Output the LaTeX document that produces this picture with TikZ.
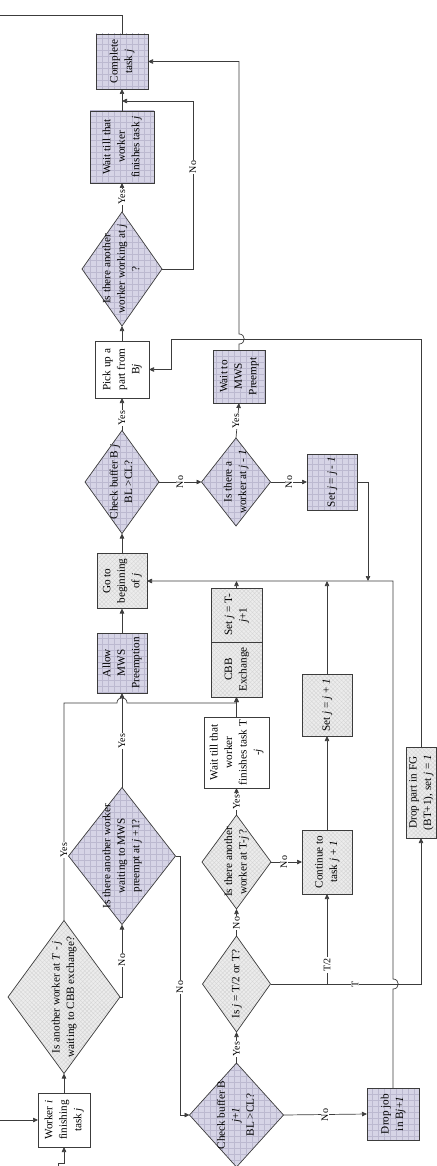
\documentclass[tikz,border=0pt]{standalone}
\usepackage{fontspec}
\setmainfont{Liberation Serif}
\usepackage{graphicx}
\usetikzlibrary{arrows.meta,shapes.geometric,patterns.meta}
\definecolor{purp}{RGB}{214,212,230}
\definecolor{purpline}{RGB}{188,185,208}
\definecolor{lgray}{RGB}{236,236,236}
\definecolor{hatch}{RGB}{210,210,210}
\definecolor{edge}{RGB}{60,60,60}
\newcommand{\rtext}[1]{\smash{\makebox[0pt]{\raisebox{-.5\height}{\rotatebox{90}{\begin{tabular}{@{}c@{}}#1\end{tabular}}}}}}
\newcommand{\vj}{\textit{j}}
\begin{document}
\begin{tikzpicture}[x=1pt,y=-1pt,
 base/.style={inner sep=0pt, outer sep=0pt, draw=edge, line width=0.7pt, font=\fontsize{11.2}{14.5}\selectfont},
 box/.style={base, rectangle},
 dia/.style={base, diamond},
 sz/.style 2 args={minimum width=#1pt, minimum height=#2pt},
 pfill/.style={preaction={fill=purp},
   preaction={pattern={Lines[distance=6pt,angle=0,line width=0.35pt]}, pattern color=purpline},
   preaction={pattern={Lines[distance=6pt,angle=90,line width=0.35pt]}, pattern color=purpline}},
 gfill/.style={preaction={fill=lgray},
   preaction={pattern={Lines[distance=3pt,angle=45,line width=0.3pt]}, pattern color=hatch},
   preaction={pattern={Lines[distance=3pt,angle=-45,line width=0.3pt]}, pattern color=hatch}},
 wfill/.style={fill=white},
 con/.style={draw=edge, line width=0.7pt},
 arr/.style={con, -{Triangle[length=5pt,width=4.5pt]}},
 lab/.style={fill=white, inner sep=1pt, rotate=90, font=\fontsize{10}{12}\selectfont}]
\useasboundingbox (0,0) rectangle (436,1166);

% boxes
\node[box,pfill,sz={52}{55}] (complete) at (122,61.5) {\rtext{Complete\\task \vj}};
\node[box,pfill,sz={64}{72}] (waitj) at (122,147) {\rtext{Wait till that\\worker\\finishes task \vj}};
\node[dia,pfill,sz={80}{114}] (anotherj) at (122,269) {\rtext{Is there another\\worker working at \vj\\?}};
\node[box,wfill,sz={54}{57}] (pick) at (122,369.5) {\rtext{Pick up a\\part from\\B\vj}};
\node[dia,pfill,sz={74}{103}] (checkbj) at (122,482) {\rtext{Check buffer B \vj\\BL >CL?}};
\node[dia,pfill,sz={69}{88}] (workerjm) at (236,482) {\rtext{Is there a\\worker at \vj{} - \textit{1}}};
\node[box,pfill,sz={52}{53}] (waitmws) at (239,376.5) {\rtext{Wait to\\MWS\\Preempt}};
\node[box,pfill,sz={50}{56}] (setjm) at (332,482) {\rtext{Set \vj{} = \vj{} - \textit{1}}};
\node[box,gfill,sz={50}{55}] (gotob) at (122,581) {\rtext{Go to\\beginning\\of \vj}};
\node[box,pfill,sz={50}{60}] (allow) at (122,663) {\rtext{Allow\\MWS\\Preemption}};
\node[box,gfill,sz={51}{54}] (setT) at (236.5,615) {\rtext{Set \vj{} = T-\\\vj+1}};
\node[box,gfill,sz={51}{55}] (cbbex) at (236.5,669.5) {\rtext{CBB\\Exchange}};
\node[box,wfill,sz={65}{71}] (waitT) at (236.5,752.5) {\rtext{Wait till that\\worker\\finishes task T\\-\vj}};
\node[box,gfill,sz={50}{62}] (setjp) at (327,705) {\rtext{Set \vj{} = \vj{} + \textit{1}}};
\node[box,gfill,sz={50}{64}] (cont) at (327,862) {\rtext{Continue to\\task \vj{} + \textit{1}}};
\node[box,gfill,sz={30}{91}] (dropfg) at (421,792.5) {\rtext{Drop part in FG\\(BT+1), set \vj{} = \textit{1}}};
\node[box,pfill,sz={52}{52}] (dropj) at (393,1114) {\rtext{Drop job\\in B\vj+\textit{1}}};
\node[box,wfill,sz={52}{54}] (worker) at (64,1120) {\rtext{Worker \textit{i}\\finishing\\task \vj}};
\node[dia,gfill,sz={112}{153}] (cbbq) at (64,997) {\rtext{Is another worker at \textit{T} - \vj\\waiting to CBB exchange?}};
\node[dia,pfill,sz={107}{137}] (mwsq) at (122,856) {\rtext{Is there another worker\\waiting to MWS\\preempt at \vj{} +1?}};
\node[dia,pfill,sz={94}{104}] (checkbj1) at (236.5,1115) {\rtext{Check buffer B\\\vj+\textit{1}\\BL >CL?}};
\node[dia,gfill,sz={69}{94}] (Tj) at (236.5,862) {\rtext{Is there another\\worker at T-\vj{} ?}};
\node[dia,gfill,sz={68}{96}] (half) at (236.5,984) {\rtext{Is \vj{} = T/2 or T?}};

% junction coordinates
\coordinate (jn) at (122,101);
\coordinate (exitL) at (0,15);
\coordinate (inL) at (0,1120);
\coordinate (inB) at (58,1166);
\coordinate (j1) at (236.5,581);
\coordinate (j2) at (327,581);
\coordinate (j3) at (368,581);
\coordinate (tb) at (327,984);

% connectors
\draw[con] (complete.north) |- (exitL);
\draw[arr] (waitj.north) -- (complete.south);
\draw[arr] (anotherj.north) -- (waitj.south);
\draw[arr] (anotherj.east) -- (193,269) -- (193,101) -- (jn);
\draw[arr] (pick.north) -- (anotherj.south);
\draw[arr] (checkbj.north) -- (pick.south);
\draw[arr] (checkbj.east) -- (workerjm.west);
\draw[arr] (workerjm.north) -- (waitmws.south);
\draw[arr] (workerjm.east) -- (setjm.west);
\draw[arr] (waitmws.north) -- (239,344) .. controls (246,344) and (246,334) .. (239,334) |- (complete.east);
\draw[arr] (setjm.east) -| (j3);
\draw[arr] (dropj.north) -- (393,989) .. controls (400,989) and (400,979) .. (393,979) -- (393,581) -- (gotob.east);
\draw[arr] (setT.north) -- (j1);
\draw[arr] (setjp.north) -- (j2);
\draw[arr] (cont.north) -- (setjp.south);
\draw[arr] (gotob.north) -- (checkbj.south);
\draw[arr] (allow.north) -- (gotob.south);
\draw[arr] (mwsq.north) -- (allow.south);
\draw[arr] (cbbq.north) |- (117,703) .. controls (117,696) and (127,696) .. (127,703) -| (cbbex.south);
\draw[arr] (waitT.north) -- (cbbex.south);
\draw[arr] (Tj.north) -- (waitT.south);
\draw[arr] (Tj.east) -- (cont.west);
\draw[arr] (half.north) -- (Tj.south);
\draw[arr] (half.east) -| (dropfg.south);
\draw[arr] (tb) -- (cont.south);
\draw[arr] (dropfg.north) |- (171,339) |- (pick.east);
\draw[arr] (mwsq.east) -- (180,856) |- (checkbj1.west);
\draw[arr] (cbbq.east) -| (mwsq.south);
\draw[arr] (worker.north) -- (cbbq.south);
\draw[arr] (inL) -- (worker.west);
\draw[arr] (inB) -- (58,1163) -| (worker.south);
\draw[arr] (checkbj1.north) -- (half.south);
\draw[arr] (checkbj1.east) -- (dropj.west);

% labels
\node[lab] (y1) at (122,197) {Yes};
\node[lab] (y2) at (122,418) {Yes};
\node[lab] (y3) at (236,421) {Yes};
\node[lab] (y4) at (122,741) {Yes};
\node[lab] (y5) at (64,850) {Yes};
\node[lab] (y6) at (236.5,802) {Yes};
\node[lab] (y7) at (236.5,1049) {Yes};
\node[lab] (n1) at (193,167) {No};
\node[lab] (n2) at (180,482) {No};
\node[lab] (n3) at (289,482) {No};
\node[lab] (n4) at (284,862) {No};
\node[lab] (n5) at (236.5,923) {No};
\node[lab] (n6) at (122,960) {No};
\node[lab] (n7) at (180,987) {No};
\node[lab] (n8) at (325,1115) {No};
\node[lab] (t2) at (327,965) {T/2};
\node[lab] (t1) at (355,984) {T};
\end{tikzpicture}
\end{document}
